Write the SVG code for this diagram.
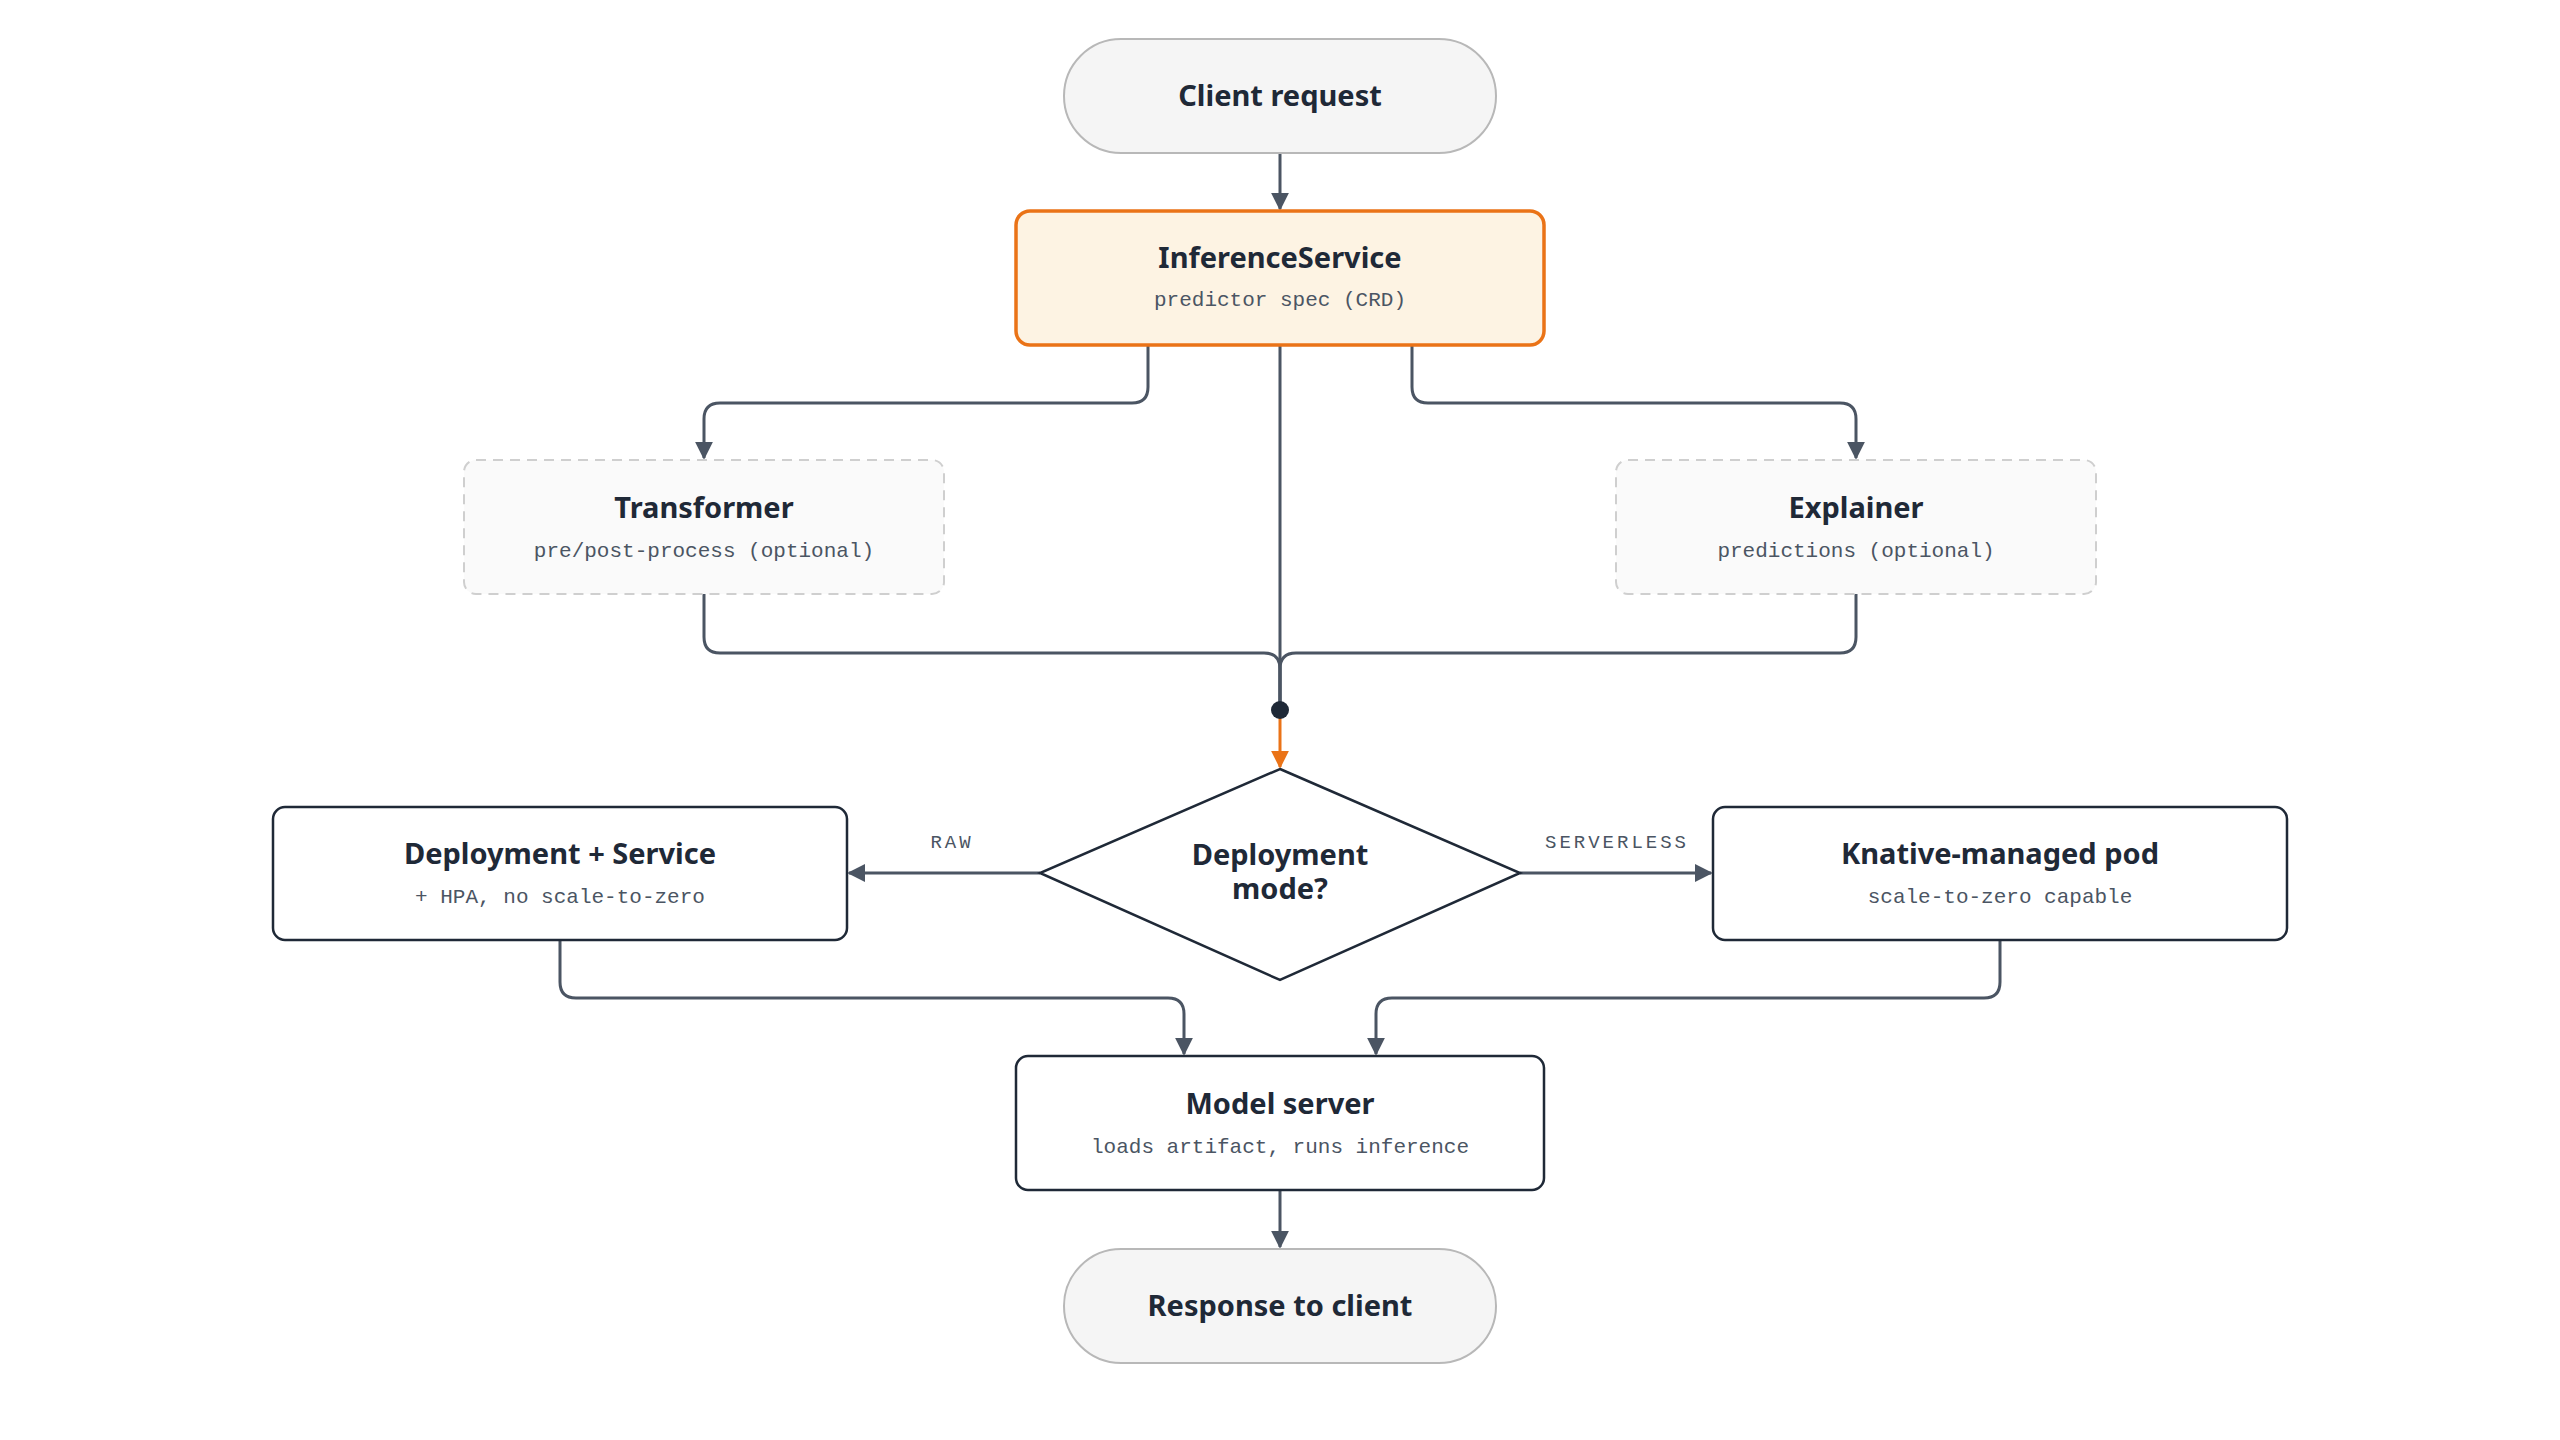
<svg xmlns="http://www.w3.org/2000/svg" width="2560" height="1440" viewBox="0 0 2560 1440">
<style>
.t{font-family:"Noto Sans","Liberation Sans",sans-serif;font-weight:700;font-size:29px;fill:#1f2937;text-anchor:middle}
.s{font-family:"Liberation Mono","DejaVu Sans Mono",monospace;font-size:21px;fill:#4b5563;text-anchor:middle}
.l{font-family:"Liberation Mono","DejaVu Sans Mono",monospace;font-size:19px;fill:#4b5563;text-anchor:middle;letter-spacing:3px}
.n{fill:#fff;stroke:#1f2937;stroke-width:2.5}
.pill{fill:#f5f5f5;stroke:#b8b8b8;stroke-width:2}
.opt{fill:#fafafa;stroke:#cfcfcf;stroke-width:2;stroke-dasharray:10 7}
.c{fill:none;stroke:#4b5563;stroke-width:3}
</style>
<defs>
<marker id="a" viewBox="0 0 10 10" refX="9" refY="5" markerWidth="6" markerHeight="6" orient="auto" markerUnits="userSpaceOnUse" style="overflow:visible"><path d="M0,0 L10,5 L0,10 z" fill="#4b5563" transform="scale(1.8) translate(-4,-2.2)"/></marker>
<marker id="ao" viewBox="0 0 10 10" refX="9" refY="5" markerWidth="18" markerHeight="18" orient="auto" markerUnits="userSpaceOnUse"><path d="M0,0 L10,5 L0,10 z" fill="#ea7317"/></marker>
<marker id="ag" viewBox="0 0 10 10" refX="9" refY="5" markerWidth="18" markerHeight="18" orient="auto" markerUnits="userSpaceOnUse"><path d="M0,0 L10,5 L0,10 z" fill="#4b5563"/></marker>
</defs>
<rect width="2560" height="1440" fill="#fff"/>
<g id="connectors">
<path class="c" d="M1280,153 V209" marker-end="url(#ag)"/>
<path class="c" d="M1148,345 V387 Q1148,403 1132,403 H720 Q704,403 704,419 V458" marker-end="url(#ag)"/>
<path class="c" d="M1412,345 V387 Q1412,403 1428,403 H1840 Q1856,403 1856,419 V458" marker-end="url(#ag)"/>
<path class="c" d="M1280,345 V710"/>
<path class="c" d="M704,594 V637 Q704,653 720,653 H1264 Q1280,653 1280,669 V710"/>
<path class="c" d="M1856,594 V637 Q1856,653 1840,653 H1296 Q1280,653 1280,669 V710"/>
<path d="M1280,710 V767" fill="none" stroke="#ea7317" stroke-width="3" marker-end="url(#ao)"/>
<path class="c" d="M1040,873 H849" marker-end="url(#ag)"/>
<path class="c" d="M1520,873 H1711" marker-end="url(#ag)"/>
<path class="c" d="M560,940 V982 Q560,998 576,998 H1168 Q1184,998 1184,1014 V1054" marker-end="url(#ag)"/>
<path class="c" d="M2000,940 V982 Q2000,998 1984,998 H1392 Q1376,998 1376,1014 V1054" marker-end="url(#ag)"/>
<path class="c" d="M1280,1190 V1247" marker-end="url(#ag)"/>
<circle cx="1280" cy="710" r="9" fill="#1f2937"/>
<text class="l" x="952" y="848">RAW</text>
<text class="l" x="1617" y="848">SERVERLESS</text>
</g>
<g id="client"><rect class="pill" x="1064" y="39" width="432" height="114" rx="57"/><text class="t" x="1280" y="106">Client request</text></g>
<g id="inference"><rect x="1016" y="211" width="528" height="134" rx="14" fill="#fdf3e3" stroke="#ea7317" stroke-width="3.5"/><text class="t" x="1280" y="268">InferenceService</text><text class="s" x="1280" y="306">predictor spec (CRD)</text></g>
<g id="transformer"><rect class="opt" x="464" y="460" width="480" height="134" rx="12"/><text class="t" x="704" y="518">Transformer</text><text class="s" x="704" y="557">pre/post-process (optional)</text></g>
<g id="explainer"><rect class="opt" x="1616" y="460" width="480" height="134" rx="12"/><text class="t" x="1856" y="518">Explainer</text><text class="s" x="1856" y="557">predictions (optional)</text></g>
<g id="mode"><path class="n" d="M1280,769 L1520,873 L1280,980 L1040,873 Z"/><text class="t" x="1280" y="865">Deployment</text><text class="t" x="1280" y="899">mode?</text></g>
<g id="deployment"><rect class="n" x="273" y="807" width="574" height="133" rx="12"/><text class="t" x="560" y="864">Deployment + Service</text><text class="s" x="560" y="903">+ HPA, no scale-to-zero</text></g>
<g id="knative"><rect class="n" x="1713" y="807" width="574" height="133" rx="12"/><text class="t" x="2000" y="864">Knative-managed pod</text><text class="s" x="2000" y="903">scale-to-zero capable</text></g>
<g id="model"><rect class="n" x="1016" y="1056" width="528" height="134" rx="12"/><text class="t" x="1280" y="1114">Model server</text><text class="s" x="1280" y="1153">loads artifact, runs inference</text></g>
<g id="response"><rect class="pill" x="1064" y="1249" width="432" height="114" rx="57"/><text class="t" x="1280" y="1316">Response to client</text></g>
</svg>
